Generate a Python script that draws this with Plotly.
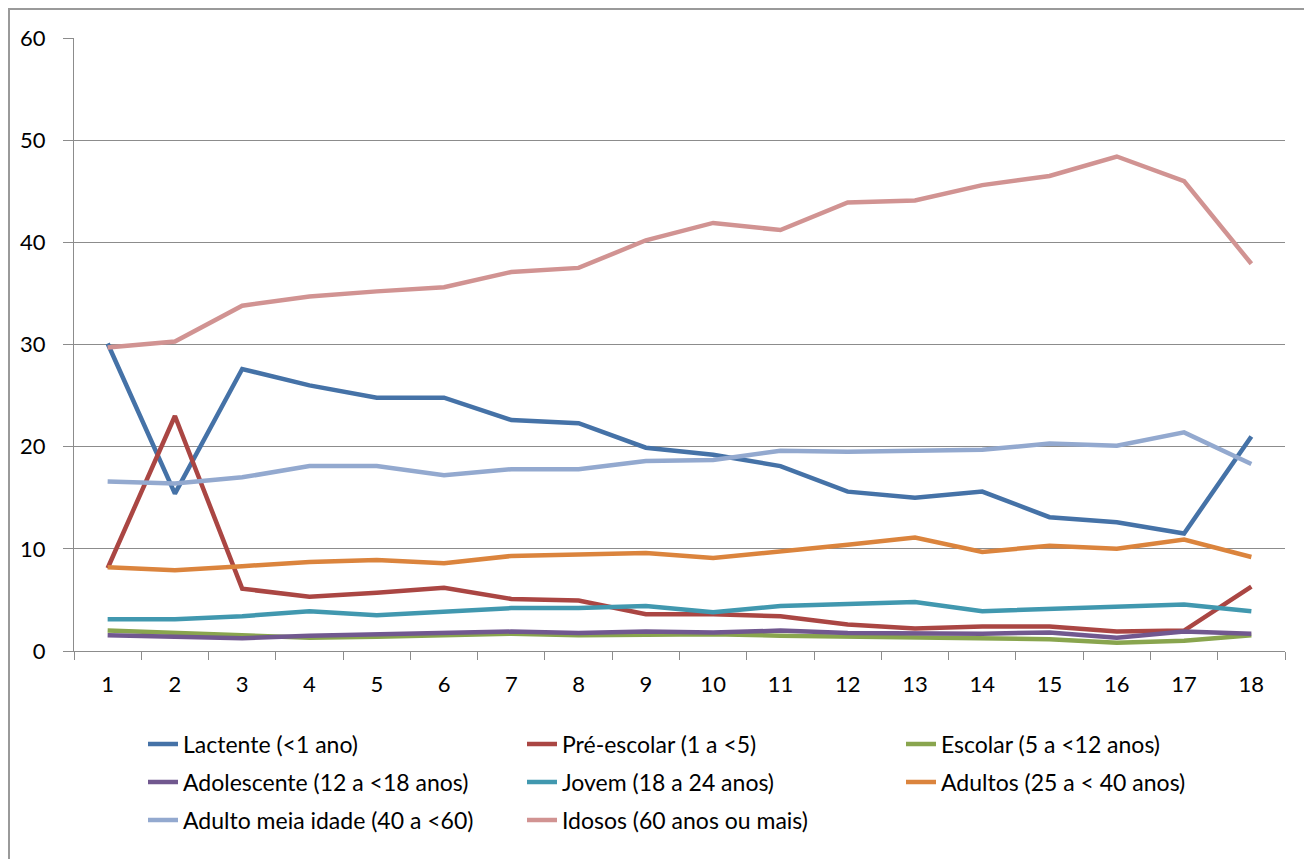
import plotly.graph_objects as go

categories = [str(i) for i in range(1, 19)]

lactente = [30.1, 15.4, 27.6, 26.0, 24.8, 24.8, 22.6, 22.3, 19.9, 19.2, 18.1, 15.6, 15.0, 15.6, 13.1, 12.6, 11.5, 21.0]
pre_escolar = [8.1, 23.0, 6.1, 5.3, 5.7, 6.2, 5.1, 4.95, 3.6, 3.6, 3.4, 2.6, 2.2, 2.4, 2.4, 1.9, 2.0, 6.3]
escolar = [2.0, 1.8, 1.6, 1.3, 1.4, 1.55, 1.7, 1.55, 1.55, 1.65, 1.5, 1.4, 1.25, 1.25, 1.15, 0.8, 1.0, 1.55]
adolescente = [1.55, 1.4, 1.25, 1.5, 1.6, 1.7, 1.9, 1.75, 1.9, 1.8, 2.0, 1.75, 1.7, 1.7, 1.8, 1.3, 1.9, 1.7]
jovem = [3.1, 3.1, 3.4, 3.9, 3.5, 3.9, 4.2, 4.2, 4.4, 3.8, 4.4, 4.6, 4.8, 3.9, 4.1, 4.4, 4.55, 3.9]
adultos = [8.2, 7.9, 8.3, 8.7, 8.9, 8.6, 9.3, 9.5, 9.6, 9.1, 9.7, 10.4, 11.1, 9.7, 10.3, 10.0, 10.9, 9.2]
meia_idade = [16.6, 16.4, 17.0, 18.1, 18.1, 17.2, 17.8, 17.8, 18.6, 18.7, 19.6, 19.5, 19.6, 19.7, 20.3, 20.1, 21.4, 18.3]
idosos = [29.7, 30.3, 33.8, 34.7, 35.2, 35.6, 37.1, 37.5, 40.2, 41.9, 41.2, 43.9, 44.1, 45.6, 46.5, 48.4, 46.0, 37.9]

series_names = [
    "Lactente (<1 ano)", "Pré-escolar (1 a <5)", "Escolar (5 a <12 anos)",
    "Adolescente (12 a <18 anos)", "Jovem (18 a 24 anos)", "Adultos (25 a < 40 anos)",
    "Adulto meia idade (40 a <60)", "Idosos (60 anos ou mais)",
]
series_values = [lactente, pre_escolar, escolar, adolescente, jovem, adultos, meia_idade, idosos]
colors = ["#4572A7", "#AA4643", "#89A54E", "#71588F", "#4198AF", "#DB843D", "#93A9CF", "#D19392"]
legend_ids = ["legend", "legend", "legend", "legend2", "legend2", "legend2", "legend3", "legend3"]

fig = go.Figure()
for name, vals, col, lg in zip(series_names, series_values, colors, legend_ids):
    fig.add_trace(go.Scatter(
        x=categories, y=vals, mode="lines", name=name,
        line=dict(color=col, width=4.5), legend=lg,
    ))

W, H = 1312, 859
OFF = 8  # page offset of the figure
L, R, T, B = 74 - OFF, 1285 - OFF, 38 - OFF, 651 - OFF
pw, ph = R - L, B - T

def px(x):
    return (x - OFF - L) / pw

def py(y):
    return (B - (y - OFF)) / ph

font_family = "Lato, 'Open Sans', sans-serif"
leg_common = dict(
    orientation="h", entrywidth=334, xanchor="left", yanchor="middle",
    font=dict(family=font_family, size=23, color="#000000"),
    bgcolor="rgba(0,0,0,0)", itemclick=False, itemdoubleclick=False,
    x=px(143), traceorder="normal",
)

fig.update_layout(
    width=W, height=H,
    margin=dict(l=L, r=W - R, t=T, b=H - B, pad=0),
    paper_bgcolor="white", plot_bgcolor="white",
    font=dict(family=font_family, size=22, color="#000000"),
    xaxis=dict(
        type="category", tickson="boundaries", ticks="outside", ticklen=8,
        tickcolor="#8c8c8c", showline=True, linecolor="#8c8c8c", linewidth=1,
        showgrid=False, tickfont=dict(size=22), ticklabelstandoff=14,
        range=[-0.5, 17.5],
    ),
    yaxis=dict(
        range=[0, 60], dtick=10, ticks="outside", ticklen=10,
        tickcolor="#8c8c8c", showline=True, linecolor="#8c8c8c", linewidth=1,
        showgrid=True, gridcolor="#8c8c8c", gridwidth=1, zeroline=False,
        tickfont=dict(size=22), ticklabelstandoff=13,
    ),
    legend=dict(**leg_common, y=py(744)),
    legend2=dict(**leg_common, y=py(782)),
    legend3=dict(**leg_common, y=py(820)),
    shapes=[dict(
        type="rect", xref="paper", yref="paper",
        x0=px(9), x1=px(1340), y0=py(900), y1=py(9),
        line=dict(color="#9a9a9a", width=2), fillcolor="rgba(0,0,0,0)", layer="below",
    )],
)

fig.write_html("out.html")
